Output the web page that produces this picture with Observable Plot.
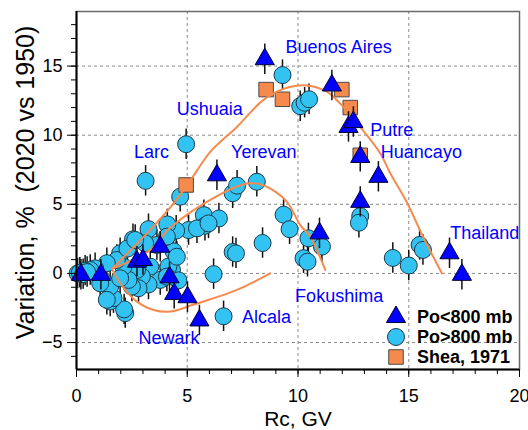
<!DOCTYPE html>
<html><head><meta charset="utf-8">
<script src="https://cdn.jsdelivr.net/npm/d3@7"></script>
<script src="https://cdn.jsdelivr.net/npm/@observablehq/plot@0.6"></script>
<style>
body{margin:0;background:#fff;}
#chart{width:528px;height:430px;}
svg text{white-space:pre;}
</style></head><body><div id="chart"></div>
<script>
// ---- Data ----
// Po<800 mb (triangles)
const triX = [0.2, 1.1, 2.73, 3.0, 3.78, 4.2, 4.41, 5.01, 5.55, 6.34, 8.5, 10.97, 11.53, 12.28, 12.5, 12.81, 12.81, 13.63, 16.84, 17.4];
const triY = [-0.1, -0.1, 0.85, 0.97, 1.93, -0.28, -1.48, -1.72, -3.4, 7.1, 15.5, 2.9, 13.6, 10.6, 10.95, 8.43, 5.18, 6.99, 1.46, -0.1];
// Po>800 mb (circles)
const cirX = [9.3, 10.1, 10.3, 10.5, 4.95, 3.12, 7.05, 7.25, 8.14, 4.68, 5.75, 5.8, 6.43, 5.06, 4.5, 4.1, 3.25, 2.55, 9.35, 9.62,
  8.4, 7.05, 7.2, 6.19, 6.64, 10.47, 11.08, 10.25, 10.43, 12.81, 12.75, 14.28, 15.0, 15.49, 15.64,
  4.38, 4.31, 4.15, 3.78, 3.63, 3.1, 3.33, 3.25, 2.95, 2.8, 2.73, 2.5, 2.35, 2.2, 2.15, 1.52, 1.67, 2.12, 1.97, 1.82,
  1.37, 1.22, 1.52, 0.84, 0.62, 0.39, 2.3, 2.65, 4.08, 5.44, 5.96, 4.53, 4.08, 1.07, 1.37, 0.05, 0.15, 0.3, 0.48, 1.97, 4.6];
const cirY = [14.35, 12.1, 12.35, 12.6, 9.35, 6.7, 5.8, 6.35, 6.63, 5.55, 4.22, 3.45, 3.98, 3.14, 3.1, 3.55, 3.2, 2.47, 4.25, 3.2,
  2.2, 1.55, 1.45, -0.05, -3.1, 2.54, 1.94, 1.1, 0.85, 4.15, 3.67, 1.12, 0.57, 2.06, 1.7,
  1.6, 0.25, 0.5, -0.47, 2.06, 2.18, 0.49, -0.8, -0.23, -1.07, 0.25, -0.95, -0.47, -2.87, -2.6, -2.03, -1.79, 0.49, 1.46, 0.97,
  0.74, -0.59, -0.95, 0.37, 0.25, 0.2, 1.8, 2.42, 2.66, 3.26, 3.62, 1.21, -0.23, -0.71, -1.91, 0.0, 0.05, -0.05, 0.1, -0.35, -0.5];
// Shea, 1971 (squares)
const sqX = [4.95, 8.56, 9.3, 11.98, 12.36, 12.81];
const sqY = [6.4, 13.3, 12.6, 13.3, 12.0, 8.55];
// error bar half-lengths
const errTri = 1.1;
const errCir = 1.1;
// orange fit curves
const fitA = [[1.6,0.33],[3.18,2.9],[4.32,4.95],[5.0,6.39],[5.45,7.47],[6.04,8.8],[7.24,10.6],[8.4,12.5],[9.35,13.35],[10.4,13.6],[11.3,13.15],[11.9,12.3],[12.81,10.6],[13.71,8.7],[14.16,7.26],[14.93,5.09],[15.65,2.64],[16.5,0.0]];
const fitB = [[1.6,0.33],[3.33,1.7],[4.23,3.3],[6.34,5.6],[7.7,6.5],[8.29,6.45],[8.74,6.15],[9.5,5.18],[10.1,3.5],[10.55,2.66],[11.23,0.25]];
const fitC = [[1.6,0.33],[1.97,-0.71],[2.73,-2.04],[3.48,-2.64],[4.23,-2.76],[5.3,-2.25],[7.24,-1.19],[8.74,0.01]];
// site labels
const siteNames = ["Buenos Aires", "Ushuaia", "Larc", "Yerevan", "Putre", "Huancayo", "Thailand", "Fokushima", "Alcala", "Newark"];
const siteX = [9.44, 4.53, 2.6, 6.98, 13.26, 13.74, 16.87, 9.87, 7.47, 2.8];
const siteY = [16.35, 11.88, 8.77, 8.77, 10.36, 8.77, 2.92, -1.68, -3.16, -4.68];
// axes
const xTicks = [0, 5, 10, 15, 20];
const yTicks = [-5, 0, 5, 10, 15];
const xMinor = d3.range(0, 21, 1);
const yMinor = d3.range(-6, 19, 1);
const legendNames = ["Po<800 mb", "Po>800 mb", "Shea, 1971"];

// ---- Build ----
const tri = triX.map((x, i) => ({x, y: triY[i]}));
const cir = cirX.map((x, i) => ({x, y: cirY[i]}));
const sq = sqX.map((x, i) => ({x, y: sqY[i]}));
const sites = siteNames.map((n, i) => ({n, x: siteX[i], y: siteY[i]}));

const ORANGE = "#f68a4c";
const CYAN = "#33c3f2";
const BLUE = "#0000ff";
const yDom = [-6.95, 18.95];

const plot = Plot.plot({
  width: 528, height: 430,
  marginLeft: 76, marginRight: 9, marginTop: 11, marginBottom: 61,
  x: {domain: [0, 20]},
  y: {domain: yDom},
  style: {fontFamily: "'Liberation Sans', Arial, sans-serif", fontSize: "18px", color: "#000", background: "#fff"},
  marks: [
    Plot.gridX(xTicks.slice(1, -1), {stroke: "#8a8a8a", strokeOpacity: 1, strokeDasharray: "3,3"}),
    Plot.gridY(yTicks, {stroke: "#8a8a8a", strokeOpacity: 1, strokeDasharray: "3,3"}),
    Plot.ruleX(cir, {x: "x", y1: d => d.y - errCir, y2: d => d.y + errCir, stroke: "#111", strokeWidth: 1.5}),
    Plot.dot(cir, {x: "x", y: "y", r: 8.5, fill: CYAN, stroke: "#1b3a4a", strokeWidth: 1}),
    Plot.dot(sq, {x: "x", y: "y", symbol: "square", r: 8.2, fill: ORANGE, stroke: "#4a4a4a", strokeWidth: 1}),
    Plot.line(fitA, {x: d => d[0], y: d => d[1], stroke: ORANGE, strokeWidth: 2, curve: "catmull-rom"}),
    Plot.line(fitB, {x: d => d[0], y: d => d[1], stroke: ORANGE, strokeWidth: 2, curve: "catmull-rom"}),
    Plot.line(fitC, {x: d => d[0], y: d => d[1], stroke: ORANGE, strokeWidth: 2, curve: "catmull-rom"}),
    Plot.ruleX(tri, {x: "x", y1: d => d.y - errTri, y2: d => d.y + errTri, stroke: "#111", strokeWidth: 1.5}),
    Plot.dot(tri, {x: "x", y: "y", symbol: "triangle", r: 7.1, fill: BLUE, stroke: "#000033", strokeWidth: 1}),
    Plot.text(sites, {x: "x", y: "y", text: "n", textAnchor: "start", fill: BLUE, fontSize: 18}),
    Plot.frame({stroke: "#6a6a6a", strokeWidth: 1.5}),
    Plot.ruleX([0], {stroke: "#000", strokeWidth: 2}),
    Plot.ruleY([yDom[0]], {stroke: "#000", strokeWidth: 2}),
    Plot.axisX(xMinor, {tickSize: 5, tickFormat: () => "", label: null}),
    Plot.axisX(xTicks, {tickSize: 8, tickPadding: 12, fontSize: 18, label: null}),
    Plot.axisY(yMinor, {tickSize: 5, tickFormat: () => "", label: null}),
    Plot.axisY(yTicks, {tickSize: 9, tickPadding: 5, fontSize: 18, label: null}),
    Plot.text(["Rc, GV"], {frameAnchor: "bottom", dy: 50, lineAnchor: "middle", textAnchor: "middle", fontSize: 21}),
    Plot.text(["Variation, %  (2020 vs 1950)"], {frameAnchor: "left", rotate: -90, dx: -51, dy: -8, textAnchor: "middle", lineAnchor: "middle", fontSize: 25})
  ]
});
document.getElementById("chart").appendChild(plot);

// ---- Legend (inside plot, bottom-right) ----
const svg = d3.select(plot);
const lg = svg.append("g").attr("font-family", "'Liberation Sans', Arial, sans-serif").attr("text-anchor", "start");
const syms = [
  {sym: d3.symbolTriangle, size: Math.PI * 7.1 * 7.1, fill: BLUE, stroke: "#000033"},
  {sym: d3.symbolCircle, size: Math.PI * 8.5 * 8.5, fill: CYAN, stroke: "#1b3a4a"},
  {sym: d3.symbolSquare, size: Math.PI * 8.2 * 8.2, fill: ORANGE, stroke: "#4a4a4a"}
];
legendNames.forEach((name, i) => {
  const cy = 317 + i * 20;
  lg.append("path").attr("transform", `translate(396,${cy})`)
    .attr("d", d3.symbol(syms[i].sym, syms[i].size)())
    .attr("fill", syms[i].fill).attr("stroke", syms[i].stroke);
  lg.append("text").attr("x", 417).attr("y", cy).attr("dy", "0.35em")
    .attr("font-size", 18).attr("font-weight", "bold").attr("fill", "#000").text(name);
});
</script>
</body></html>
